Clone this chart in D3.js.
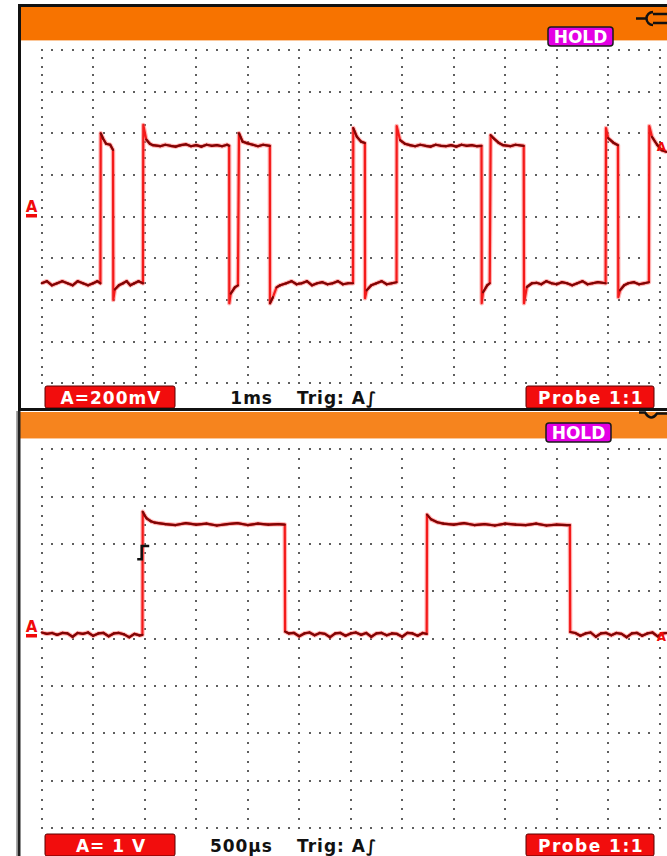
<!DOCTYPE html>
<html>
<head>
<meta charset="utf-8">
<script src="https://cdn.jsdelivr.net/npm/d3@7"></script>
<style>
  body { margin: 0; background: #fff; }
  svg { display: block; }
</style>
</head>
<body>
<script>
// top capture: time in ms, level in V (200 mV/div, 1 ms/div)
const topTrace = [
  [0, -0.32], [0.1, -0.31], [0.2, -0.33], [0.3, -0.32], [0.4, -0.31], [0.5, -0.32],
  [0.6, -0.33], [0.7, -0.31], [0.8, -0.32], [0.9, -0.33], [1.0, -0.32], [1.08, -0.31], [1.14, -0.32],
  [1.146, 0.40], [1.19, 0.375], [1.25, 0.35], [1.33, 0.345], [1.385, 0.32],
  [1.39, -0.40], [1.42, -0.35], [1.5, -0.33], [1.58, -0.32], [1.65, -0.31], [1.72, -0.33],
  [1.8, -0.32], [1.88, -0.31], [1.965, -0.32],
  [1.973, 0.44], [2.03, 0.37], [2.1, 0.35], [2.16, 0.343], [2.3, 0.338], [2.4, 0.345],
  [2.5, 0.34], [2.6, 0.336], [2.7, 0.343], [2.8, 0.347], [2.9, 0.338], [3.0, 0.343],
  [3.1, 0.336], [3.2, 0.345], [3.3, 0.34], [3.4, 0.343], [3.5, 0.338], [3.6, 0.345], [3.64, 0.34],
  [3.643, -0.416], [3.67, -0.37], [3.75, -0.34], [3.81, -0.33],
  [3.831, 0.40], [3.9, 0.36], [3.98, 0.353], [4.1, 0.345], [4.2, 0.338], [4.3, 0.345], [4.43, 0.34],
  [4.433, -0.416], [4.49, -0.387], [4.56, -0.34], [4.63, -0.33], [4.75, -0.32], [4.85, -0.31],
  [4.95, -0.325], [5.05, -0.32], [5.15, -0.31], [5.25, -0.33], [5.35, -0.32], [5.45, -0.315],
  [5.55, -0.325], [5.65, -0.32], [5.75, -0.31], [5.85, -0.325], [5.95, -0.32], [6.045, -0.32],
  [6.05, 0.425], [6.12, 0.383], [6.2, 0.36], [6.275, 0.353],
  [6.278, -0.392], [6.31, -0.354], [6.4, -0.33], [6.5, -0.32], [6.6, -0.31], [6.7, -0.325],
  [6.8, -0.32], [6.89, -0.315],
  [6.893, 0.435], [6.96, 0.367], [7.05, 0.35], [7.15, 0.343], [7.25, 0.338], [7.35, 0.345],
  [7.45, 0.34], [7.55, 0.336], [7.65, 0.345], [7.75, 0.34], [7.85, 0.338], [7.95, 0.343],
  [8.05, 0.336], [8.15, 0.345], [8.25, 0.34], [8.35, 0.343], [8.45, 0.338], [8.54, 0.34],
  [8.544, -0.416], [8.57, -0.363], [8.65, -0.33], [8.7, -0.32],
  [8.718, 0.391], [8.77, 0.377], [8.87, 0.355], [8.96, 0.343], [9.1, 0.338], [9.2, 0.345], [9.36, 0.34],
  [9.365, -0.416], [9.42, -0.338], [9.52, -0.32], [9.61, -0.318], [9.7, -0.325], [9.8, -0.31],
  [9.9, -0.32], [10.0, -0.325], [10.1, -0.315], [10.2, -0.32], [10.3, -0.33], [10.4, -0.32],
  [10.5, -0.31], [10.6, -0.325], [10.7, -0.32], [10.8, -0.315], [10.95, -0.32],
  [10.957, 0.425], [11.0, 0.377], [11.1, 0.355], [11.19, 0.343],
  [11.196, -0.387], [11.23, -0.354], [11.31, -0.33], [11.39, -0.32], [11.5, -0.315],
  [11.6, -0.325], [11.7, -0.32], [11.79, -0.315],
  [11.798, 0.435], [11.85, 0.383], [11.95, 0.345], [12.04, 0.319], [12.14, 0.31]
];

// bottom capture: time in µs, level in V (1 V/div, 500 µs/div)
const bottomTrace = [
  [0, 0.13], [50, 0.10], [100, 0.12], [150, 0.08], [200, 0.12], [250, 0.11], [300, 0.04],
  [350, 0.12], [400, 0.10], [450, 0.13], [500, 0.06], [550, 0.11], [600, 0.12], [650, 0.05],
  [700, 0.11], [750, 0.12], [800, 0.09], [850, 0.03], [900, 0.10], [950, 0.07], [978, 0.08],
  [981, 2.68], [1000, 2.60], [1019, 2.54], [1060, 2.48], [1100, 2.45], [1200, 2.42],
  [1300, 2.40], [1400, 2.44], [1500, 2.41], [1600, 2.43], [1700, 2.39], [1800, 2.42],
  [1900, 2.44], [2000, 2.40], [2100, 2.43], [2200, 2.41], [2300, 2.42], [2360, 2.41],
  [2363, 0.15], [2400, 0.11], [2450, 0.12], [2500, 0.05], [2550, 0.11], [2600, 0.13],
  [2650, 0.07], [2700, 0.12], [2750, 0.10], [2800, 0.03], [2850, 0.11], [2900, 0.12],
  [2950, 0.06], [3000, 0.11], [3050, 0.13], [3100, 0.08], [3150, 0.12], [3200, 0.04],
  [3250, 0.11], [3300, 0.12], [3350, 0.07], [3400, 0.11], [3450, 0.10], [3500, 0.04],
  [3550, 0.12], [3600, 0.11], [3650, 0.06], [3700, 0.12], [3738, 0.10],
  [3741, 2.62], [3780, 2.52], [3840, 2.46], [3900, 2.43], [4000, 2.41], [4100, 2.44],
  [4200, 2.40], [4300, 2.42], [4400, 2.39], [4500, 2.43], [4600, 2.41], [4700, 2.40],
  [4800, 2.43], [4900, 2.39], [5000, 2.41], [5100, 2.40], [5128, 2.40],
  [5131, 0.14], [5180, 0.12], [5230, 0.06], [5280, 0.11], [5330, 0.13], [5380, 0.04],
  [5430, 0.11], [5480, 0.12], [5530, 0.07], [5580, 0.12], [5630, 0.10], [5680, 0.03],
  [5730, 0.11], [5780, 0.12], [5830, 0.06], [5880, 0.11], [5930, 0.13], [5980, 0.05],
  [6030, 0.11], [6072, 0.12]
];

// screen settings
const topReadout = ["A=200mV", "1ms", "Trig: A\u222B", "Probe 1:1"];
const bottomReadout = ["A= 1 V", "500\u00B5s", "Trig: A\u222B", "Probe 1:1"];
const topDivs = { x: [0, 12], y: [-0.8, 0.8], xStep: 1, yStep: 0.2 };
const bottomDivs = { x: [0, 6000], y: [-4, 4], xStep: 500, yStep: 1 };
const bottomTrigger = { time: 971, level: 1.82 };

const width = 667, height = 856;

const svg = d3.select("body").append("svg")
  .attr("width", width)
  .attr("height", height)
  .attr("viewBox", [0, 0, width, height]);

const gridLeft = 41.7, gridRight = 659.7;
const fontLabel = "'DejaVu Sans', Verdana, sans-serif";

function drawPanel(cfg) {
  const g = svg.append("g");
  const x = d3.scaleLinear().domain(cfg.divs.x).range([gridLeft, gridRight]);
  const y = d3.scaleLinear().domain(cfg.divs.y).range([cfg.gridBottom, cfg.gridTop]);

  // white screen + orange header
  g.append("rect")
    .attr("x", cfg.frameLeft).attr("y", cfg.frameTop)
    .attr("width", width - cfg.frameLeft).attr("height", cfg.frameBottom - cfg.frameTop)
    .attr("fill", "#fff");
  g.append("rect")
    .attr("x", cfg.frameLeft + 3).attr("y", cfg.headTop)
    .attr("width", width).attr("height", cfg.headBottom - cfg.headTop)
    .attr("fill", cfg.orange);
  g.append("line")
    .attr("x1", cfg.frameLeft + 3).attr("x2", width)
    .attr("y1", cfg.headBottom + 0.5).attr("y2", cfg.headBottom + 0.5)
    .attr("stroke", "#fbc79a").attr("stroke-width", 1);

  // dotted graticule
  const xMaj = d3.range(cfg.divs.x[0], cfg.divs.x[1] + cfg.divs.xStep / 2, cfg.divs.xStep);
  const yMaj = d3.range(cfg.divs.y[0], cfg.divs.y[1] + cfg.divs.yStep / 2, cfg.divs.yStep);
  const xMin = d3.range(cfg.divs.x[0], cfg.divs.x[1] + cfg.divs.xStep * 0.2, cfg.divs.xStep / 5);
  const yMin = d3.range(cfg.divs.y[0], cfg.divs.y[1] + cfg.divs.yStep / 10, cfg.divs.yStep / 5);
  const dots = [];
  yMaj.forEach((v) => xMin.forEach((t) => dots.push([x(t), y(v)])));
  xMaj.forEach((t) => yMin.forEach((v) => dots.push([x(t), y(v)])));
  g.append("g")
    .selectAll("rect")
    .data(dots)
    .join("rect")
    .attr("x", (d) => Math.round(d[0]) - 1)
    .attr("y", (d) => Math.round(d[1]) - 1)
    .attr("width", 2).attr("height", 2)
    .attr("fill", "#5e5e5e");

  // trace: halo, bright edges, dark flat parts
  const line = d3.line().x((d) => x(d[0])).y((d) => y(d[1]));
  g.append("path").datum(cfg.trace)
    .attr("d", line).attr("fill", "none")
    .attr("stroke", "#ff7a7a").attr("stroke-width", 4.5).attr("opacity", 0.55)
    .attr("stroke-linejoin", "round");
  g.append("path").datum(cfg.trace)
    .attr("d", line).attr("fill", "none")
    .attr("stroke", "#f41a1a").attr("stroke-width", 2.2)
    .attr("stroke-linejoin", "round");
  const flats = d3.pairs(cfg.trace).filter(([a, b]) => {
    const dx = Math.abs(x(b[0]) - x(a[0])), dy = Math.abs(y(b[1]) - y(a[1]));
    return dy < dx * 2.5;
  });
  g.append("g").selectAll("path")
    .data(flats)
    .join("path")
    .attr("d", (d) => line(d))
    .attr("fill", "none")
    .attr("stroke", "#7e0606").attr("stroke-width", 2.2)
    .attr("stroke-linecap", "round");

  // ground markers
  const mk = g.append("g").attr("fill", "#f00a0a")
    .attr("font-family", fontLabel).attr("font-weight", "bold");
  mk.append("text")
    .attr("x", 31.5).attr("y", cfg.markerY)
    .attr("text-anchor", "middle").attr("font-size", 15)
    .text("A");
  mk.append("rect")
    .attr("x", 26).attr("y", cfg.markerY + 2)
    .attr("width", 11).attr("height", 3.5);
  mk.append("text")
    .attr("x", 666).attr("y", cfg.rightMarkerY)
    .attr("text-anchor", "end").attr("font-size", 12)
    .text("A");

  // HOLD badge
  g.append("rect")
    .attr("x", cfg.holdX).attr("y", cfg.holdY)
    .attr("width", 65).attr("height", 19).attr("rx", 3)
    .attr("fill", "#e400e4").attr("stroke", "#1a1a1a").attr("stroke-width", 1.5);
  g.append("text")
    .attr("x", cfg.holdX + 32.5).attr("y", cfg.holdY + 16)
    .attr("text-anchor", "middle")
    .attr("font-family", fontLabel).attr("font-weight", "bold").attr("font-size", 17)
    .attr("fill", "#fff")
    .text("HOLD");

  // readout line
  const ro = g.append("g")
    .attr("font-family", fontLabel).attr("font-weight", "bold").attr("font-size", 17)
    .attr("letter-spacing", 1);
  ro.append("rect")
    .attr("x", 45).attr("y", cfg.readY).attr("width", 130).attr("height", 22).attr("rx", 2)
    .attr("fill", "#f20d0d").attr("stroke", "#5a0000").attr("stroke-width", 1);
  ro.append("text")
    .attr("x", 111).attr("y", cfg.readY + 17.5).attr("text-anchor", "middle")
    .attr("fill", "#fff").text(cfg.readout[0]);
  ro.append("text")
    .attr("x", 273).attr("y", cfg.readY + 17.5).attr("text-anchor", "end")
    .attr("fill", "#111").text(cfg.readout[1]);
  ro.append("text")
    .attr("x", 297).attr("y", cfg.readY + 17.5)
    .attr("fill", "#111").text(cfg.readout[2]);
  ro.append("rect")
    .attr("x", 526).attr("y", cfg.readY).attr("width", 128).attr("height", 22).attr("rx", 2)
    .attr("fill", "#f20d0d").attr("stroke", "#5a0000").attr("stroke-width", 1);
  ro.append("text")
    .attr("x", 591).attr("y", cfg.readY + 17.5).attr("text-anchor", "middle")
    .attr("fill", "#fff").attr("letter-spacing", 1.5).text(cfg.readout[3]);

  return { g, x, y };
}

const topPanel = drawPanel({
  trace: topTrace, divs: topDivs, readout: topReadout, orange: "#f77300",
  frameLeft: 18, frameTop: 4, frameBottom: 409, headTop: 7, headBottom: 40,
  gridTop: 50, gridBottom: 383.2, markerY: 212, rightMarkerY: 151,
  holdX: 548, holdY: 27, readY: 386
});

const bottomPanel = drawPanel({
  trace: bottomTrace, divs: bottomDivs, readout: bottomReadout, orange: "#f6841e",
  frameLeft: 17, frameTop: 411, frameBottom: 856, headTop: 412, headBottom: 438,
  gridTop: 449.3, gridBottom: 828, markerY: 632, rightMarkerY: 641,
  holdX: 546, holdY: 423, readY: 834
});

// trigger point marker in the lower capture
{
  const { g, x, y } = bottomPanel;
  const tx = x(bottomTrigger.time), ty = y(bottomTrigger.level);
  g.append("path")
    .attr("d", `M${tx - 4.5},${ty + 6.7} H${tx} V${ty - 6.6} H${tx + 7.5}`)
    .attr("fill", "none").attr("stroke", "#111").attr("stroke-width", 2.5);
}

// frames
svg.append("path")
  .attr("d", "M19.5,409 V5.5 H667")
  .attr("fill", "none").attr("stroke", "#111").attr("stroke-width", 3);
svg.append("line")
  .attr("x1", 18).attr("x2", 667).attr("y1", 409.5).attr("y2", 409.5)
  .attr("stroke", "#111").attr("stroke-width", 3);
svg.append("line")
  .attr("x1", 19).attr("x2", 19).attr("y1", 411).attr("y2", 856)
  .attr("stroke", "#222").attr("stroke-width", 3);
svg.append("line")
  .attr("x1", 16.5).attr("x2", 16.5).attr("y1", 411).attr("y2", 856)
  .attr("stroke", "#aaa").attr("stroke-width", 1);

// plug icons (mains symbol, cut at the right edge)
svg.append("path")
  .attr("d", "M636,18.5 H645.5 M653,12 A6.5,6.5 0 1,0 653,25 M653,14 H667 M653,23 H667")
  .attr("fill", "none").attr("stroke", "#111").attr("stroke-width", 2.5);
svg.append("path")
  .attr("d", "M639,412.5 H645 Q651,422 657,413.5 H667")
  .attr("fill", "none").attr("stroke", "#111").attr("stroke-width", 2.5);
</script>
</body>
</html>
